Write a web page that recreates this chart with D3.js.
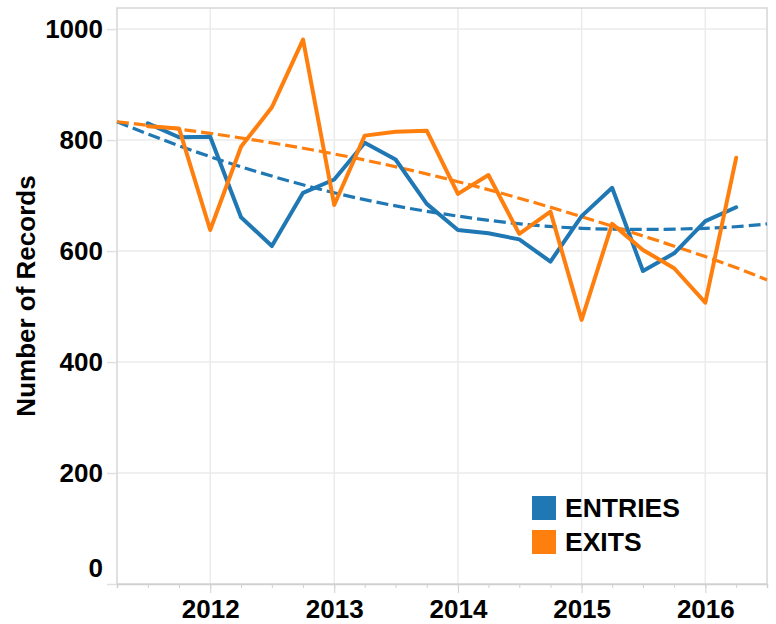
<!DOCTYPE html>
<html lang="en">
  <head>
    <meta charset="utf-8" />
    <title>Entries and exits by quarter</title>
    <script src="https://cdnjs.cloudflare.com/ajax/libs/d3/7.8.5/d3.min.js"></script>
    <style type="text/css">
      body {
        margin: 0;
        background: #fff;
      }

      text {
        font-family: "Liberation Sans", Arial, Helvetica, sans-serif;
        font-weight: bold;
        fill: #000;
      }

      .grid line {
        stroke: #ebebeb;
        stroke-width: 1.5;
      }

      .frame {
        fill: none;
        stroke: #d6d6d6;
        stroke-width: 1.5;
      }

      .line {
        fill: none;
        stroke-width: 4;
        stroke-linejoin: round;
        stroke-linecap: round;
      }

      .trend {
        fill: none;
        stroke-width: 3.2;
        stroke-dasharray: 12, 5;
      }
    </style>
  </head>

  <body>
    <div id="playground"></div>

    <script>
      // quarterly records, Q3 2011 .. Q2 2016
      const quarters = [
        "2011-07-01", "2011-10-01",
        "2012-01-01", "2012-04-01", "2012-07-01", "2012-10-01",
        "2013-01-01", "2013-04-01", "2013-07-01", "2013-10-01",
        "2014-01-01", "2014-04-01", "2014-07-01", "2014-10-01",
        "2015-01-01", "2015-04-01", "2015-07-01", "2015-10-01",
        "2016-01-01", "2016-04-01",
      ];
      const entries = [830, 805, 806, 661, 609, 705, 729, 795, 765, 685,
                       638, 632, 621, 581, 663, 714, 564, 596, 654, 679];
      const exits = [825, 821, 638, 788, 859, 981, 683, 808, 815, 817,
                     703, 737, 631, 671, 476, 649, 602, 569, 507, 768];

      // trend lines
      const trendDates = ["2011-04-01", "2012-01-01", "2013-01-01", "2014-01-01",
                          "2015-01-01", "2016-01-01", "2016-07-01"];
      const entriesTrend = [833, 770, 705, 663, 641, 641, 649];
      const exitsTrend = [833, 812, 775, 725, 662, 590, 548];

      const yTicks = [0, 200, 400, 600, 800, 1000];
      const seriesNames = ["ENTRIES", "EXITS"];
      const colors = ["#1f77b4", "#ff7f0e"];

      const width = 776;
      const height = 624;
      const marginTop = 8;
      const marginRight = 9;
      const marginBottom = 40;
      const marginLeft = 117;

      const parse = d3.utcParse("%Y-%m-%d");

      const x = d3.scaleUtc()
        .domain([parse("2011-04-01"), parse("2016-07-01")])
        .range([marginLeft, width - marginRight]);

      const y = d3.scaleLinear()
        .domain([0, 1038])
        .range([height - marginBottom, marginTop]);

      const svg = d3.select("#playground")
        .append("svg")
        .attr("width", width)
        .attr("height", height)
        .attr("viewBox", [0, 0, width, height]);

      const years = x.ticks(d3.utcYear.every(1));
      const quarterTicks = x.ticks(d3.utcMonth.every(3));

      // grid
      svg.append("g")
        .attr("class", "grid")
        .selectAll("line.v")
        .data(years)
        .join("line")
        .attr("x1", d => x(d))
        .attr("x2", d => x(d))
        .attr("y1", marginTop)
        .attr("y2", height - marginBottom);

      svg.append("g")
        .attr("class", "grid")
        .selectAll("line.h")
        .data(yTicks.filter(d => d > 0))
        .join("line")
        .attr("x1", marginLeft)
        .attr("x2", width - marginRight)
        .attr("y1", d => y(d))
        .attr("y2", d => y(d));

      svg.append("rect")
        .attr("class", "frame")
        .attr("x", marginLeft)
        .attr("y", marginTop)
        .attr("width", width - marginLeft - marginRight)
        .attr("height", height - marginTop - marginBottom);

      // y axis
      const yAxis = d3.axisLeft(y)
        .tickValues(yTicks)
        .tickSize(10)
        .tickPadding(4)
        .tickFormat(d3.format("d"));

      svg.append("g")
        .attr("transform", `translate(${marginLeft}, 0)`)
        .call(yAxis)
        .call(g => g.select(".domain").remove())
        .call(g => g.selectAll(".tick line").attr("stroke", "#e0e0e0").attr("stroke-width", 1.5))
        .call(g => g.selectAll(".tick text")
          .attr("font-size", 26)
          .attr("font-family", null))
        // the zero label sits above the x axis line
        .call(g => g.selectAll(".tick text").filter(d => d === 0)
          .attr("y", -16));

      // x axis: long ticks on years, short on quarters
      svg.append("g")
        .attr("transform", `translate(0, ${height - marginBottom})`)
        .call(d3.axisBottom(x)
          .tickValues(quarterTicks)
          .tickSize(4)
          .tickFormat(""))
        .call(g => g.select(".domain").attr("stroke", "#d0d0d0").attr("stroke-width", 1.5))
        .call(g => g.selectAll(".tick line").attr("stroke", "#d0d0d0"));

      svg.append("g")
        .attr("transform", `translate(0, ${height - marginBottom})`)
        .call(d3.axisBottom(x)
          .tickValues(years)
          .tickSize(9)
          .tickPadding(7)
          .tickFormat(d3.utcFormat("%Y")))
        .call(g => g.select(".domain").remove())
        .call(g => g.selectAll(".tick line").attr("stroke", "#d0d0d0"))
        .call(g => g.selectAll(".tick text")
          .attr("font-size", 26)
          .attr("font-family", null));

      // axis title
      svg.append("text")
        .attr("transform", `translate(35, ${(marginTop + height - marginBottom) / 2}) rotate(-90)`)
        .attr("text-anchor", "middle")
        .attr("font-size", 26)
        .text("Number of Records");

      const dates = quarters.map(parse);
      const tDates = trendDates.map(parse);

      const line = d3.line()
        .x(d => x(d[0]))
        .y(d => y(d[1]));

      const trendLine = d3.line()
        .x(d => x(d[0]))
        .y(d => y(d[1]))
        .curve(d3.curveNatural);

      const plot = svg.append("g");

      [entriesTrend, exitsTrend].forEach((vals, i) => {
        plot.append("path")
          .attr("class", "trend")
          .attr("stroke", colors[i])
          .attr("d", trendLine(d3.zip(tDates, vals)));
      });

      [entries, exits].forEach((vals, i) => {
        plot.append("path")
          .attr("class", "line")
          .attr("stroke", colors[i])
          .attr("d", line(d3.zip(dates, vals)));
      });

      // legend
      const legend = svg.append("g")
        .attr("transform", "translate(532, 496)");

      const item = legend.selectAll("g")
        .data(seriesNames)
        .join("g")
        .attr("transform", (d, i) => `translate(0, ${i * 34})`);

      item.append("rect")
        .attr("width", 24)
        .attr("height", 24)
        .attr("fill", (d, i) => colors[i]);

      item.append("text")
        .attr("x", 33)
        .attr("y", 21)
        .attr("font-size", 26.5)
        .text(d => d);
    </script>
  </body>
</html>
